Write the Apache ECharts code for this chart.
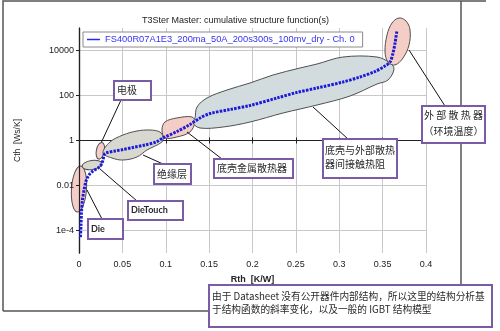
<!DOCTYPE html>
<html>
<head>
<meta charset="utf-8">
<script src="https://cdn.jsdelivr.net/npm/echarts@6/dist/echarts.min.js"></script>
<style>
  html, body { margin: 0; padding: 0; background: #fff; }
  #chart { width: 500px; height: 331px; }
</style>
</head>
<body>
<div id="chart"></div>
<script>
// Cumulative structure function of the module: Cth against Rth
const seriesName = 'FS400R07A1E3_200ma_50A_200s300s_100mv_dry - Ch. 0';
const rthValues = [0.0017, 0.0023, 0.0029, 0.0040, 0.0058, 0.0081, 0.0115, 0.0161, 0.0219, 0.0254,
                   0.0277, 0.0288, 0.0311, 0.0415, 0.0507, 0.0622, 0.0761, 0.0888, 0.0968, 0.113,
                   0.128, 0.1395, 0.151, 0.174, 0.197, 0.2282, 0.251, 0.2743, 0.3043, 0.3239,
                   0.3412, 0.3527, 0.3585, 0.362, 0.3643, 0.3666];
const cthValues = [5.1e-5, 1.75e-4, 6.6e-4, 2.27e-3, 6.3e-3, 0.0158, 0.0293, 0.044, 0.060, 0.0815,
                   0.136, 0.227, 0.278, 0.341, 0.398, 0.489, 0.631, 0.857, 1.29, 2.51,
                   5.14, 10, 15.8, 23.9, 35.9, 77.4, 136, 215, 398, 664,
                   1166, 2046, 3083, 7745, 21500, 81500];
const yTickValues = [1e-4, 0.01, 1, 100, 10000];
const yTickLabels = ['1e-4', '0.01', '1', '100', '10000'];
const cthRange = [1e-5, 1e5];
const rthRange = [0, 0.4];
const rthStep = 0.05;

// Highlighted regions of the curve: anchor in data space, outline in pixel offsets
const regionNames = ['Die', 'DieTouch', '电极', '绝缘层', '底壳金属散热器', '底壳与外部散热器间接触热阻', '外部散热器'];
const regionAnchors = [[0, 7e-3], [0.015, 0.0815], [0.0246, 0.35], [0.0622, 0.63], [0.1141, 4.0], [0.249, 129], [0.3666, 23900]];

const PINK = '#f4cdc6', GREY = '#d8d8d0', BLUEGREY = '#d2dcde', EDGE = '#505050';
const regionShapes = [
  { kind: 'ellipse', rx: 7.5, ry: 23, rot: -0.07, fill: PINK },
  { kind: 'ellipse', rx: 10, ry: 4.5, rot: 0.15, fill: GREY },
  { kind: 'ellipse', rx: 4, ry: 8.5, rot: -0.2, fill: PINK },
  { kind: 'poly', fill: GREY, pts: [[-30,8],[-23,-3],[-10,-10],[4,-14],[17,-15],[27,-13],[30,-8],[29,-3],[14,5],[4,12],[-10,15],[-21,13]] },
  { kind: 'poly', fill: PINK, pts: [[-16,3],[-13,-5],[-1,-9],[14,-10],[17,-5],[12,5],[-1,10],[-13,11]] },
  { kind: 'poly', fill: BLUEGREY, pts: [[-100,25],[-98,14],[-88,5],[-68,-3],[-45,-10],[-22,-18],[5,-25],[22,-29],[48,-36],[82,-36],[95,-30],[99,-24],
                                       [93,-13],[82,-9],[55,3],[22,12],[-12,20],[-45,29],[-72,34],[-95,35],[-102,30]] },
  { kind: 'poly', fill: PINK, pts: [[2,-24],[9,-21],[13,-12],[12,3],[6,16],[-2,23],[-9,20],[-12,10],[-10,-7],[-5,-19]] }
];

// Callout boxes: [x, y, w, h], text lines, leader line
const callouts = [
  { box: [88, 219, 35, 20], lines: ['Die'], latin: true, tx: 91, ty: [229], lead: [[87, 190], [102, 219]] },
  { box: [128, 201, 55, 19], lines: ['DieTouch'], latin: true, tx: 131, ty: [210.5], lead: [[100, 169], [137, 201]] },
  { box: [114, 81, 37, 19], lines: ['电极'], tx: 117, ty: [90.5], lead: [[121, 100], [101.5, 142]] },
  { box: [154, 164, 37, 20], lines: ['绝缘层'], tx: 157, ty: [174], lead: [[143, 155], [163, 164]] },
  { box: [214, 159, 79, 19], lines: ['底壳金属散热器'], tx: 217, ty: [168.5], lead: [[187, 132], [222, 159]] },
  { box: [323, 139, 74, 39], lines: ['底壳与外部散热', '器间接触热阻'], tx: 325, ty: [150, 164], lead: [[313, 107], [348, 139]] },
  { box: [422, 106, 63, 37], lines: ['外 部 散 热 器', '（环境温度）'], tx: 453.5, center: true, ty: [115.5, 131], lead: [[409, 50], [445, 106]] }
];
const noteLines = ['由于 Datasheet 没有公开器件内部结构，所以这里的结构分析基', '于结构函数的斜率变化，以及一般的 IGBT 结构模型'];

const chart = echarts.init(document.getElementById('chart'), null, { renderer: 'canvas' });
const yExps = yTickValues.map(v => Math.round(Math.log10(v)));
const seriesData = rthValues.map((r, i) => [r, Math.log10(cthValues[i])]);
const LATIN = 'Liberation Sans, Arial, sans-serif';
const CJK = '"Noto Sans CJK SC", sans-serif';

chart.setOption({
  animation: false,
  backgroundColor: '#fff',
  title: {
    text: 'T3Ster Master: cumulative structure function(s)',
    left: 137, top: 11,
    textStyle: { fontFamily: LATIN, fontSize: 9, fontWeight: 'normal', color: '#222' }
  },
  legend: {
    left: 83, top: 32,
    backgroundColor: '#fff', borderColor: '#8a8a8a', borderWidth: 1,
    padding: [3, 8, 3, 4],
    icon: 'rect', itemWidth: 13, itemHeight: 1.5,
    textStyle: { fontFamily: LATIN, fontSize: 9.3, color: '#3434f4' },
    data: [seriesName]
  },
  grid: { left: 79, top: 28, right: 74, bottom: 78 },
  xAxis: [
    {
      type: 'value', min: rthRange[0], max: rthRange[1], interval: rthStep,
      name: 'Rth  [K/W]', nameLocation: 'middle', nameGap: 22,
      nameTextStyle: { fontFamily: LATIN, fontSize: 9, fontWeight: 'bold', color: '#222' },
      axisLine: { lineStyle: { color: '#222', width: 1.2 } },
      axisTick: { inside: true, length: 3, lineStyle: { color: '#222' } },
      axisLabel: { fontFamily: LATIN, fontSize: 9, color: '#222', margin: 7 },
      splitLine: { show: true, lineStyle: { color: '#c8c8c8', width: 1 } }
    },
    {
      type: 'value', position: 'top', min: rthRange[0], max: rthRange[1], interval: rthStep,
      axisLine: { lineStyle: { color: '#222', width: 1.2 } },
      axisTick: { inside: true, length: 3, lineStyle: { color: '#222' } },
      axisLabel: { show: false }, splitLine: { show: false }
    }
  ],
  yAxis: [
    {
      // left axis sits above the shaded regions so its labels stay readable
      type: 'value', z: 3, min: Math.log10(cthRange[0]), max: Math.log10(cthRange[1]),
      name: 'Cth  [Ws/K]', nameLocation: 'middle', nameGap: 57,
      nameTextStyle: { fontFamily: LATIN, fontSize: 8.5, color: '#222' },
      axisLine: { lineStyle: { color: '#222', width: 1.2 } },
      axisTick: { customValues: yExps, length: 3, lineStyle: { color: '#222' } },
      axisLabel: {
        customValues: yExps, fontFamily: LATIN, fontSize: 9, color: '#222', margin: 5,
        formatter: v => yTickLabels[yExps.indexOf(Math.round(v))]
      },
      splitLine: { show: false }
    },
    {
      // right axis carries the horizontal grid lines underneath the regions
      type: 'value', position: 'right', min: Math.log10(cthRange[0]), max: Math.log10(cthRange[1]),
      axisLine: { show: true, lineStyle: { color: '#222', width: 1.2 } },
      axisTick: { show: true, inside: true, customValues: yExps, length: 3, lineStyle: { color: '#222' } },
      axisLabel: { show: false },
      splitLine: { show: true, lineStyle: { color: '#c8c8c8', width: 1 } }
    }
  ],
  series: [{
    name: seriesName, type: 'line', z: 5,
    xAxisIndex: 0, yAxisIndex: 0,
    data: seriesData, showSymbol: false, smooth: 0.3,
    lineStyle: { color: '#1c1cd8', width: 3, type: [2.5, 1.2] },
    itemStyle: { color: '#2a2aee' }
  }]
});

// Annotation layer: highlighted regions, callout boxes and the explanatory note
function toPx(pt) {
  return chart.convertToPixel({ gridIndex: 0 }, [pt[0], Math.log10(pt[1])]);
}

const graphics = [];
// figure frame
graphics.push({ type: 'polyline', z: 0, silent: true, shape: { points: [[3, 311], [3, 1], [486, 1]] }, style: { stroke: '#555', lineWidth: 1.5, fill: null } });
graphics.push({ type: 'line', z: 0, silent: true, shape: { x1: 461, y1: 1, x2: 461, y2: 285 }, style: { stroke: '#555', lineWidth: 1.5 } });
graphics.push({ type: 'line', z: 0, silent: true, shape: { x1: 3, y1: 311, x2: 209, y2: 311 }, style: { stroke: '#555', lineWidth: 1.5 } });

regionShapes.forEach((s, i) => {
  const c = toPx(regionAnchors[i]);
  const style = { fill: s.fill, stroke: EDGE, lineWidth: 1 };
  if (s.kind === 'ellipse') {
    graphics.push({ type: 'ellipse', z: 1, silent: true, x: c[0], y: c[1], rotation: s.rot,
      shape: { cx: 0, cy: 0, rx: s.rx, ry: s.ry }, style });
  } else {
    graphics.push({ type: 'polygon', z: 1, silent: true,
      shape: { points: s.pts.map(p => [c[0] + p[0], c[1] + p[1]]), smooth: 0.35 }, style });
  }
});

callouts.forEach(co => {
  graphics.push({ type: 'line', z: 8, silent: true,
    shape: { x1: co.lead[0][0], y1: co.lead[0][1], x2: co.lead[1][0], y2: co.lead[1][1] },
    style: { stroke: '#111', lineWidth: 1 } });
  graphics.push({ type: 'rect', z: 9, silent: true,
    shape: { x: co.box[0], y: co.box[1], width: co.box[2], height: co.box[3] },
    style: { fill: '#fff', stroke: '#7a5ca6', lineWidth: 2 } });
  co.lines.forEach((t, k) => {
    graphics.push({ type: 'text', z: 10, silent: true, x: co.tx, y: co.ty[k],
      style: {
        text: t, fill: '#2a2a2a',
        font: co.latin ? 'bold 9px Lato, ' + LATIN : '10px ' + CJK,
        textAlign: co.center ? 'center' : 'left', textVerticalAlign: 'middle'
      } });
  });
});

// explanatory note under the plot
graphics.push({ type: 'rect', z: 9, silent: true, shape: { x: 209, y: 285, width: 283, height: 42 },
  style: { fill: '#fff', stroke: '#7a5ca6', lineWidth: 2 } });
noteLines.forEach((t, k) => {
  graphics.push({ type: 'text', z: 10, silent: true, x: 212, y: 296 + k * 13.5,
    style: { text: t, fill: '#2a2a2a', font: '9.7px ' + CJK, textVerticalAlign: 'middle' } });
});

chart.setOption({ graphic: graphics });
</script>
</body>
</html>
